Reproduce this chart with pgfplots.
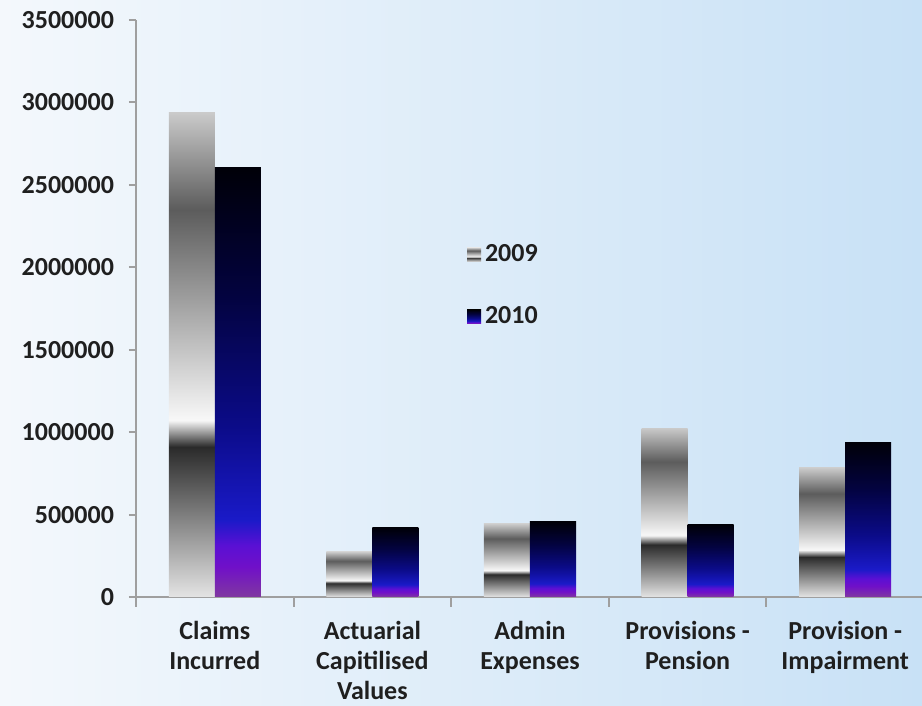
\documentclass[border=0pt]{standalone}
\usepackage{fontspec}
\setmainfont{Carlito}
\usepackage{pgfplots}
\pgfplotsset{compat=1.18}
\usetikzlibrary{backgrounds}

\definecolor{bgL}{HTML}{F4F8FC}
\definecolor{bgR}{HTML}{C8E1F6}
\definecolor{gA}{HTML}{E4E4E4}
\definecolor{gB}{HTML}{2A2A2A}
\definecolor{gC}{HTML}{F8F8F8}
\definecolor{gD}{HTML}{5C5C5C}
\definecolor{gE}{HTML}{CACACA}
\definecolor{bA}{HTML}{8038A0}
\definecolor{bB}{HTML}{7010C8}
\definecolor{bC}{HTML}{5A10D4}
\definecolor{bD}{HTML}{1A1AC8}
\definecolor{bE}{HTML}{0B0B88}
\definecolor{bF}{HTML}{030340}
\definecolor{bG}{HTML}{000008}

\pgfdeclareverticalshading{grey09}{100bp}{color(0bp)=(gA); color(25bp)=(gA); color(40.5bp)=(gB); color(43.25bp)=(gC); color(65bp)=(gD); color(75bp)=(gE); color(100bp)=(gE)}
\pgfdeclareverticalshading{blue10}{100bp}{color(0bp)=(bA); color(25bp)=(bA); color(28.5bp)=(bB); color(31bp)=(bC); color(34bp)=(bD); color(45bp)=(bE); color(60bp)=(bF); color(75bp)=(bG); color(100bp)=(bG)}

\pgfplotsset{
  b09/.style={ybar, bar width=23pt, bar shift=-11.5pt, shading=grey09, draw=none, forget plot},
  b10/.style={ybar, bar width=23pt, bar shift=11.5pt, shading=blue10, draw=none, forget plot},
}

\begin{document}
\begin{tikzpicture}
\useasboundingbox (0,0) rectangle (461pt,353pt);
\begin{axis}[
  at={(68pt,54.5pt)}, anchor=south west,
  scale only axis, width=394pt, height=288.5pt,
  xmin=-0.5, xmax=4.5, ymin=0, ymax=3500000,
  axis lines*=left,
  axis line style={draw=gray!75, line width=1pt},
  tick align=outside,
  ytick={0,500000,1000000,1500000,2000000,2500000,3000000,3500000},
  scaled y ticks=false,
  yticklabel style={font=\bfseries\fontsize{13}{15}\selectfont, text=black!88, /pgf/number format/fixed, /pgf/number format/1000 sep={}, /pgf/number format/assume math mode=true, xshift=-4pt},
  major tick length=3.5pt,
  ytick style={draw=gray!75, line width=1pt},
  xtick={0,1,2,3,4},
  xticklabels={{Claims\\Incurred},{Actuarial\\Capitilised\\Values},{Admin\\Expenses},{Provisions -\\Pension},{Provision -\\Impairment}},
  major x tick style={draw=none},
  minor xtick={-0.5,0.5,1.5,2.5,3.5,4.5},
  minor tick length=5pt,
  minor x tick style={draw=gray!75, line width=1pt},
  xticklabel style={align=center, font=\bfseries\fontsize{13}{15}\selectfont, text=black!88, yshift=-5pt},
  legend style={at={(0.412,0.625)}, anchor=north west, draw=none, fill=none, font=\bfseries\fontsize{13}{15}\selectfont, text=black!88, row sep=17pt},
  legend cell align=left,
  legend image code/.code={\path[#1,draw=none] (0pt,-3.5pt) rectangle (7pt,3.5pt);},
]
% 2009
\addplot[b09] coordinates {(0,2937000)};
\addplot[b09] coordinates {(1,273000)};
\addplot[b09] coordinates {(2,443000)};
\addplot[b09] coordinates {(3,1025000)};
\addplot[b09] coordinates {(4,783000)};
% 2010
\addplot[b10] coordinates {(0,2603000)};
\addplot[b10] coordinates {(1,419000)};
\addplot[b10] coordinates {(2,455000)};
\addplot[b10] coordinates {(3,437000)};
\addplot[b10] coordinates {(4,940000)};
\addlegendimage{shading=grey09}
\addlegendentry{2009}
\addlegendimage{shading=blue10}
\addlegendentry{2010}
\end{axis}
\begin{scope}[on background layer]
\shade[left color=bgL, right color=bgR] (0,0) rectangle (461pt,353pt);
\end{scope}
\end{tikzpicture}
\end{document}
